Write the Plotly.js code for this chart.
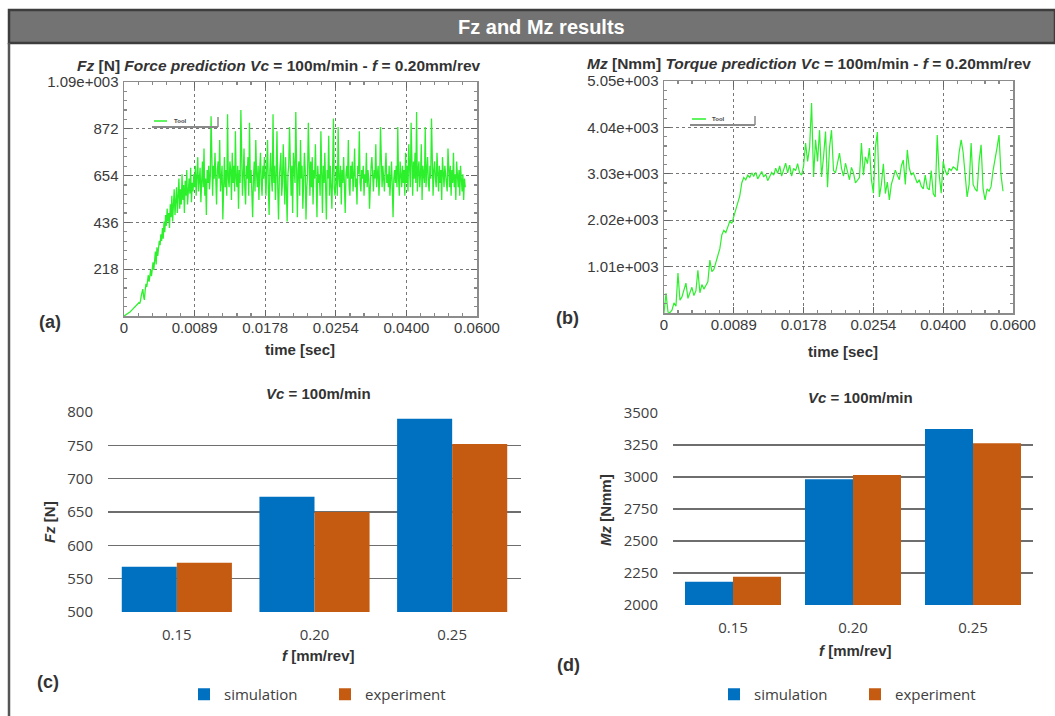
<!DOCTYPE html>
<html><head><meta charset="utf-8">
<script src="https://cdn.plot.ly/plotly-3.0.1.min.js"></script>
<style>html,body{margin:0;padding:0;background:#fff;overflow:hidden;}</style>
</head><body><div id="chart"></div>
<script>
// ---------- DATA ----------
const timeTickLabels = ['0', '0.0089', '0.0178', '0.0254', '0.0400', '0.0600'];
const fzTickValues = [0, 218, 436, 654, 872, 1090];
const fzTickLabels = ['', '218', '436', '654', '872', '1.09e+003'];
const mzTickValues = [0, 1010, 2020, 3030, 4040, 5050];
const mzTickLabels = ['', '1.01e+003', '2.02e+003', '3.03e+003', '4.04e+003', '5.05e+003'];
const toolName = 'Tool';

// Fz [N] samples, 90 samples per time division
const fzSeries = [
  0, 2, 4, 6, 8, 10, 13, 16, 20, 24, 28, 30, 35, 40, 45, 48, 52, 56, 60,
  62, 58, 70, 95, 110, 125, 90, 75,
  120, 150, 135, 170, 190, 160, 200, 215, 185,
  230, 250, 215, 270, 300, 240, 320, 280, 310, 350,
  330, 380, 350, 410, 360, 440, 390, 470, 420, 500,
  440, 480, 410, 520, 460, 560, 440, 500, 590, 470, 540,
  600, 480, 560, 640, 500, 590, 520, 660, 540, 610, 480, 630,
  560, 680, 520, 600, 640, 570, 690, 530, 620, 580, 660,
  // division 1
  600, 700, 560, 650, 740, 580, 620, 690, 530, 660, 720, 600, 780, 560, 640, 470, 680, 620, 700, 590,
  650, 930, 620, 560, 700, 640, 760, 600, 520, 680, 720, 640, 820, 580, 660, 700, 450, 620, 740, 600,
  680, 560, 940, 640, 600, 720, 680, 540, 760, 620, 700, 580, 860, 640, 600, 700, 500, 680, 620, 960,
  700, 560, 650, 780, 600, 520, 700, 640, 740, 560, 900, 620, 680, 600, 460, 640, 720, 580, 820, 660,
  600, 700, 540, 680, 760, 620, 560, 700, 640, 740,
  // division 2
  620, 560, 700, 820, 600, 470, 680, 760, 640, 580, 940, 620, 700, 540, 660, 860, 600, 450, 640, 700,
  760, 560, 620, 800, 680, 520, 740, 600, 440, 660, 700, 880, 620, 560, 700, 480, 760, 640, 620, 950,
  600, 460, 680, 720, 560, 820, 640, 700, 500, 620, 760, 680, 450, 600, 660, 900, 640, 560, 720, 600,
  740, 520, 680, 640, 800, 600, 460, 700, 620, 660, 560, 860, 640, 480, 700, 620, 760, 600, 450, 680,
  640, 840, 560, 700, 620, 500, 680, 920, 600, 560,
  // division 3
  620, 700, 560, 880, 640, 600, 700, 520, 680, 620, 740, 600, 480, 660, 700, 640, 820, 600, 560, 700,
  640, 720, 580, 660, 780, 600, 640, 520, 700, 660, 860, 620, 580, 680, 640, 700, 560, 660, 620, 760,
  600, 680, 640, 500, 660, 700, 740, 620, 580, 680, 640, 800, 600, 660, 700, 560, 640, 880, 620, 600,
  700, 640, 580, 680, 760, 620, 660, 600, 700, 560, 640, 720, 600, 460, 640, 680, 620, 700, 600, 880,
  640, 560, 720, 660, 600, 700, 620, 680, 560, 760,
  // division 4 (partial)
  620, 700, 580, 800, 640, 600, 900, 660, 560, 720, 640, 760, 620, 950, 580, 680, 720, 600, 660, 800,
  540, 700, 640, 620, 880, 600, 680, 740, 620, 580, 700, 640, 920, 600, 560, 680, 720, 640, 600, 760,
  660, 580, 700, 620, 680, 540, 740, 640, 600, 700, 660, 620, 580, 780, 640, 600, 700, 560, 680, 620,
  760, 600, 660, 540, 720, 640, 600, 680, 560, 700, 620, 580, 660, 540, 640, 600
];
const fzSamplesPerDivision = 90;

// Mz [Nmm] samples, 35 samples per time division
const mzSeries = [
  0, 430, 20, 10, 60, 220, 150, 870, 280, 350, 500, 650, 320, 420, 560, 380, 480, 930, 440, 620,
  520, 600, 680, 1150, 900, 950, 1100, 1250, 1400, 1700, 1800, 1750, 1900, 2000, 1950, 2100, 2250, 2400, 2550, 2830,
  2950, 2900, 3000, 2950, 3050, 2980, 3060, 2920, 3000, 3080, 2960, 3020, 2880, 2990, 3060, 3000, 3150, 3040, 3200, 2980,
  3120, 3260, 3050, 3220, 2980, 3150, 3100, 3250, 3050, 3000, 3200, 3700, 3300, 3600, 4570, 2960, 3770, 3300, 3980, 2960,
  3400, 3950, 2740, 3600, 3980, 3100, 3050, 3250, 3480, 3150, 2980, 3260, 3100, 2900, 3170, 3050, 2830, 2890, 2950, 3700,
  3000, 3400, 3250, 3590, 2900, 2610, 3600, 3940, 2525, 2800, 3250, 2600, 2850, 2460, 2800, 2950, 3110, 3000, 2900, 3200,
  3330, 2800, 3550, 3150, 3000, 3050, 2950, 2830, 2900, 2760, 2700, 3000, 2720, 2680, 3100, 2600, 2525, 3875, 3000, 2610,
  3300, 3100, 3000, 3150, 3100, 3180, 3150, 3100, 3500, 3770, 3500, 2900, 2525, 2800, 3700, 2800, 2700, 2650, 3300, 3660,
  2700, 2460, 2700, 2650, 2750, 3100, 3400, 3600, 3875, 3000, 2650
];
const mzSamplesPerDivision = 35;

const feedCategories = ['0.15', '0.20', '0.25'];
const fzSimulation = [568, 673, 790];
const fzExperiment = [574, 650, 752];
const mzSimulation = [2182, 2982, 3375];
const mzExperiment = [2221, 3016, 3263];
const seriesNames = ['simulation', 'experiment'];

// ---------- LAYOUT HELPERS ----------
const W = 1055, H = 716;
const PX = x => x / W;
const PY = y => 1 - y / H;
const divisions = timeTickLabels.map((_, i) => i);
const green = '#2cf02c';
const blue = '#0070c0';
const orange = '#c55a11';

function idxX(arr, perDiv) { return arr.map((_, i) => i / perDiv); }
function minorVals(step, count) { const v = []; for (let i = 0; i <= count; i++) v.push(+(i * step).toFixed(6)); return v; }

const armFont = 'Liberation Sans, Arial, sans-serif';
const officeFont = 'Open Sans, Liberation Sans, sans-serif';

function timeAxis(domain, anchor) {
  return {
    domain: domain, anchor: anchor, range: [0, 5], tickmode: 'array', tickvals: divisions, ticktext: timeTickLabels,
    showgrid: true, gridcolor: '#777', griddash: 'dot', gridwidth: 1, zeroline: false,
    showline: true, linecolor: '#8c8c8c', linewidth: 1.5, mirror: 'ticks',
    ticks: 'inside', ticklen: 6, tickcolor: '#666', tickwidth: 1.2,
    minor: { tickmode: 'array', tickvals: minorVals(0.2, 25), ticks: 'inside', ticklen: 3, tickcolor: '#888', showgrid: false },
    tickfont: { family: armFont, size: 15, color: '#3a3a3a' }, ticklabelstandoff: -3
  };
}
function valueAxis(domain, anchor, vals, labels) {
  const top = vals[vals.length - 1];
  return {
    domain: domain, anchor: anchor, range: [0, top], tickmode: 'array', tickvals: vals, ticktext: labels,
    showgrid: true, gridcolor: '#777', griddash: 'dot', gridwidth: 1, zeroline: false,
    showline: true, linecolor: '#8c8c8c', linewidth: 1.5, mirror: 'ticks',
    ticks: 'inside', ticklen: 6, tickcolor: '#666', tickwidth: 1.2,
    minor: { tickmode: 'array', tickvals: minorVals(top / 25, 25), ticks: 'inside', ticklen: 3, tickcolor: '#888', showgrid: false },
    tickfont: { family: armFont, size: 15, color: '#3a3a3a' }, ticklabelstandoff: 1
  };
}
function barX(domain, anchor) {
  return {
    domain: domain, anchor: anchor, type: 'category', showgrid: false, showline: false, zeroline: false, ticks: '',
    tickfont: { family: officeFont, size: 15, color: '#404040' }, ticklabelstandoff: 12
  };
}
function barY(domain, anchor, range, dtick) {
  return {
    domain: domain, anchor: anchor, range: range, dtick: dtick, tick0: range[0], showgrid: true, gridcolor: '#6e6e6e', gridwidth: 1.2,
    showline: false, zeroline: false, ticks: '', tickfont: { family: officeFont, size: 15, color: '#404040' }, ticklabelstandoff: 14
  };
}

const traces = [
  { type: 'scatter', mode: 'lines', name: toolName, x: idxX(fzSeries, fzSamplesPerDivision), y: fzSeries, xaxis: 'x', yaxis: 'y',
    line: { color: green, width: 1.3 }, showlegend: false },
  { type: 'scatter', mode: 'lines', name: toolName, x: idxX(mzSeries, mzSamplesPerDivision), y: mzSeries, xaxis: 'x2', yaxis: 'y2',
    line: { color: green, width: 1.2 }, showlegend: false },
  { type: 'bar', name: seriesNames[0], x: feedCategories, y: fzSimulation, xaxis: 'x3', yaxis: 'y3', marker: { color: blue }, legend: 'legend' },
  { type: 'bar', name: seriesNames[1], x: feedCategories, y: fzExperiment, xaxis: 'x3', yaxis: 'y3', marker: { color: orange }, legend: 'legend' },
  { type: 'bar', name: seriesNames[0], x: feedCategories, y: mzSimulation, xaxis: 'x4', yaxis: 'y4', marker: { color: blue }, legend: 'legend2' },
  { type: 'bar', name: seriesNames[1], x: feedCategories, y: mzExperiment, xaxis: 'x4', yaxis: 'y4', marker: { color: orange }, legend: 'legend2' }
];

function ann(text, x, y, opts) {
  return Object.assign({ text: text, x: PX(x), y: PY(y), xref: 'paper', yref: 'paper', showarrow: false,
    xanchor: 'center', yanchor: 'middle', font: { family: armFont, size: 14, color: '#333' } }, opts || {});
}
const boldFont = (s) => ({ family: armFont, size: s, color: '#333' });

const annotations = [
  ann('Fz and Mz results', 541, 27, { font: { family: 'Liberation Sans Narrow, Arial Narrow, Liberation Sans, sans-serif', size: 20, color: '#fff', weight: 'bold' } }),
  ann('<b><i>Fz</i> [N] <i>Force prediction Vc</i> = 100m/min - <i>f</i> = 0.20mm/rev</b>', 279, 65, { font: boldFont(15.5) }),
  ann('<b><i>Mz</i> [Nmm] <i>Torque prediction Vc</i> = 100m/min - <i>f</i> = 0.20mm/rev</b>', 809, 63, { font: boldFont(15.5) }),
  ann('<b>time [sec]</b>', 300, 349, { font: boldFont(15) }),
  ann('<b>time [sec]</b>', 843, 351, { font: boldFont(15) }),
  ann('<b>(a)</b>', 50, 322, { font: boldFont(18) }),
  ann('<b>(b)</b>', 567, 318, { font: boldFont(18) }),
  ann('<b>(c)</b>', 48, 682, { font: boldFont(18) }),
  ann('<b>(d)</b>', 568, 665, { font: boldFont(18) }),
  ann(toolName, 172, 121, { xanchor: 'left', font: { family: armFont, size: 6, color: '#444', weight: 'bold' } }),
  ann(toolName, 710, 119, { xanchor: 'left', font: { family: armFont, size: 6, color: '#444', weight: 'bold' } }),
  ann('<b><i>Vc</i> = 100m/min</b>', 318, 393, { font: boldFont(15) }),
  ann('<b><i>Vc</i> = 100m/min</b>', 860, 397, { font: boldFont(15) }),
  ann('<b><i>f</i> [mm/rev]</b>', 318, 655, { font: boldFont(15) }),
  ann('<b><i>f</i> [mm/rev]</b>', 855, 650, { font: boldFont(15) }),
  ann('<b><i>Fz</i> [N]</b>', 49, 522, { textangle: -90, font: boldFont(15) }),
  ann('<b><i>Mz</i> [Nmm]</b>', 605, 510, { textangle: -90, font: boldFont(15) })
];

function pline(x0, y0, x1, y1, color, width) {
  return { type: 'line', xref: 'paper', yref: 'paper', x0: PX(x0), y0: PY(y0), x1: PX(x1), y1: PY(y1), line: { color: color, width: width } };
}
const shapes = [
  { type: 'rect', xref: 'paper', yref: 'paper', x0: PX(9), x1: 1, y0: PY(43), y1: PY(10), fillcolor: '#737373', line: { color: '#3d3d3d', width: 2.5 }, layer: 'below' },
  pline(9, 43, 9, 716, '#555', 2.5),
  // legend "Tool" boxes
  pline(154, 121, 167, 121, green, 1.5),
  pline(152, 127, 218, 127, '#8a8a8a', 2),
  pline(218, 117, 218, 127, '#8a8a8a', 1.5),
  pline(692, 119, 706, 119, green, 1.5),
  pline(690, 125, 755, 125, '#8a8a8a', 2),
  pline(755, 116, 755, 125, '#8a8a8a', 1.5)
];

const legendCommon = { orientation: 'h', xanchor: 'left', yanchor: 'top', bgcolor: 'rgba(0,0,0,0)', entrywidth: 96, entrywidthmode: 'pixels',
  font: { family: officeFont, size: 15, color: '#404040' }, traceorder: 'normal' };

const layout = {
  width: W, height: H, margin: { l: 0, r: 0, t: 0, b: 0, autoexpand: false }, paper_bgcolor: '#fff', plot_bgcolor: '#fff',
  showlegend: true, bargap: 0.2, bargroupgap: 0, barmode: 'group',
  xaxis: timeAxis([PX(124), PX(477)], 'y'),
  yaxis: valueAxis([PY(316), PY(82)], 'x', fzTickValues, fzTickLabels),
  xaxis2: timeAxis([PX(664), PX(1013)], 'y2'),
  yaxis2: valueAxis([PY(313), PY(81)], 'x2', mzTickValues, mzTickLabels),
  xaxis3: barX([PX(108), PX(521)], 'y3'),
  yaxis3: barY([PY(612), PY(412)], 'x3', [500, 800], 50),
  xaxis4: barX([PX(673), PX(1033)], 'y4'),
  yaxis4: barY([PY(605), PY(413)], 'x4', [2000, 3500], 250),
  legend: Object.assign({}, legendCommon, { x: PX(184), y: PY(678) }),
  legend2: Object.assign({}, legendCommon, { x: PX(714), y: PY(678) }),
  annotations: annotations,
  shapes: shapes
};

Plotly.newPlot('chart', traces, layout, { displayModeBar: false, staticPlot: true });
</script></body></html>
